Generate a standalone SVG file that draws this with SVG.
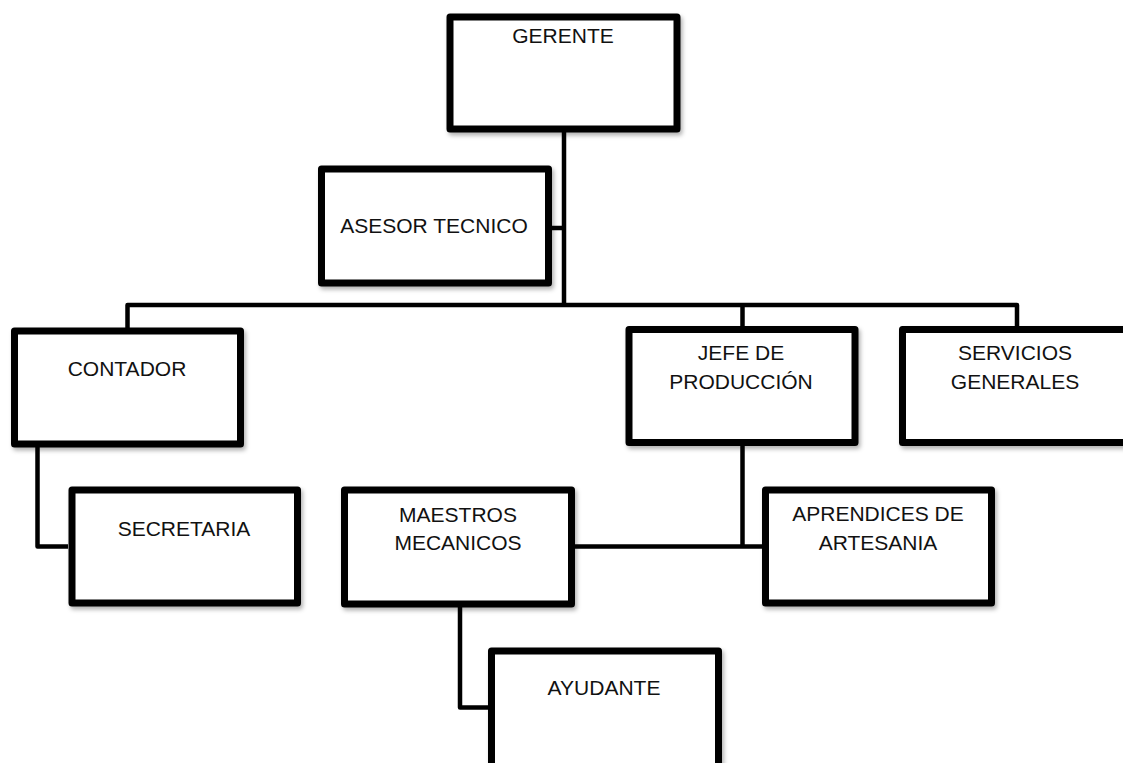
<svg xmlns="http://www.w3.org/2000/svg" width="1123" height="763" viewBox="0 0 1123 763">
<defs>
<filter id="sh" x="-10%" y="-10%" width="130%" height="140%">
<feDropShadow dx="2" dy="3" stdDeviation="2" flood-color="#000" flood-opacity="0.3"/>
</filter>
</defs>
<style>
.box{fill:#fff;stroke:#000;stroke-width:7;stroke-linejoin:round;filter:url(#sh)}
.ln{fill:none;stroke:#000;stroke-width:4.5;stroke-linejoin:round}
text{font-family:"Liberation Sans",Arial,sans-serif;font-size:21px;fill:#111;text-anchor:middle}
</style>
<rect width="1123" height="763" fill="#fff"/>
<g id="connectors">
<path class="ln" d="M564 132 V307"/>
<path class="ln" d="M551 228 H564"/>
<path class="ln" d="M127.5 328 V305 H1017 V326"/>
<path class="ln" d="M742.5 305 V326"/>
<path class="ln" d="M37.5 447 V546.5 H68"/>
<path class="ln" d="M742.5 446 V546.5"/>
<path class="ln" d="M575 546.5 H762"/>
<path class="ln" d="M460 607 V707.5 H488"/>
</g>
<g id="gerente">
<rect class="box" x="450" y="17" width="227" height="112"/>
<text x="563" y="43">GERENTE</text>
</g>
<g id="asesor">
<rect class="box" x="321.5" y="169" width="227" height="114"/>
<text x="434" y="233">ASESOR TECNICO</text>
</g>
<g id="contador">
<rect class="box" x="14.5" y="331" width="226" height="113"/>
<text x="127" y="376">CONTADOR</text>
</g>
<g id="jefe">
<rect class="box" x="629" y="329.5" width="226" height="113"/>
<text x="741" y="360">JEFE DE</text>
<text x="741" y="389">PRODUCCIÓN</text>
</g>
<g id="servicios">
<rect class="box" x="902.5" y="329.5" width="226" height="113"/>
<text x="1015" y="360">SERVICIOS</text>
<text x="1015" y="389">GENERALES</text>
</g>
<g id="secretaria">
<rect class="box" x="72" y="490" width="225.5" height="113"/>
<text x="184" y="536">SECRETARIA</text>
</g>
<g id="maestros">
<rect class="box" x="344.5" y="490" width="227" height="114"/>
<text x="458" y="521.5">MAESTROS</text>
<text x="458" y="550">MECANICOS</text>
</g>
<g id="aprendices">
<rect class="box" x="765.5" y="490" width="226" height="113"/>
<text x="878" y="520.5">APRENDICES DE</text>
<text x="878" y="549.5">ARTESANIA</text>
</g>
<g id="ayudante">
<rect class="box" x="491.5" y="651" width="227" height="118"/>
<text x="604" y="695">AYUDANTE</text>
</g>
</svg>
